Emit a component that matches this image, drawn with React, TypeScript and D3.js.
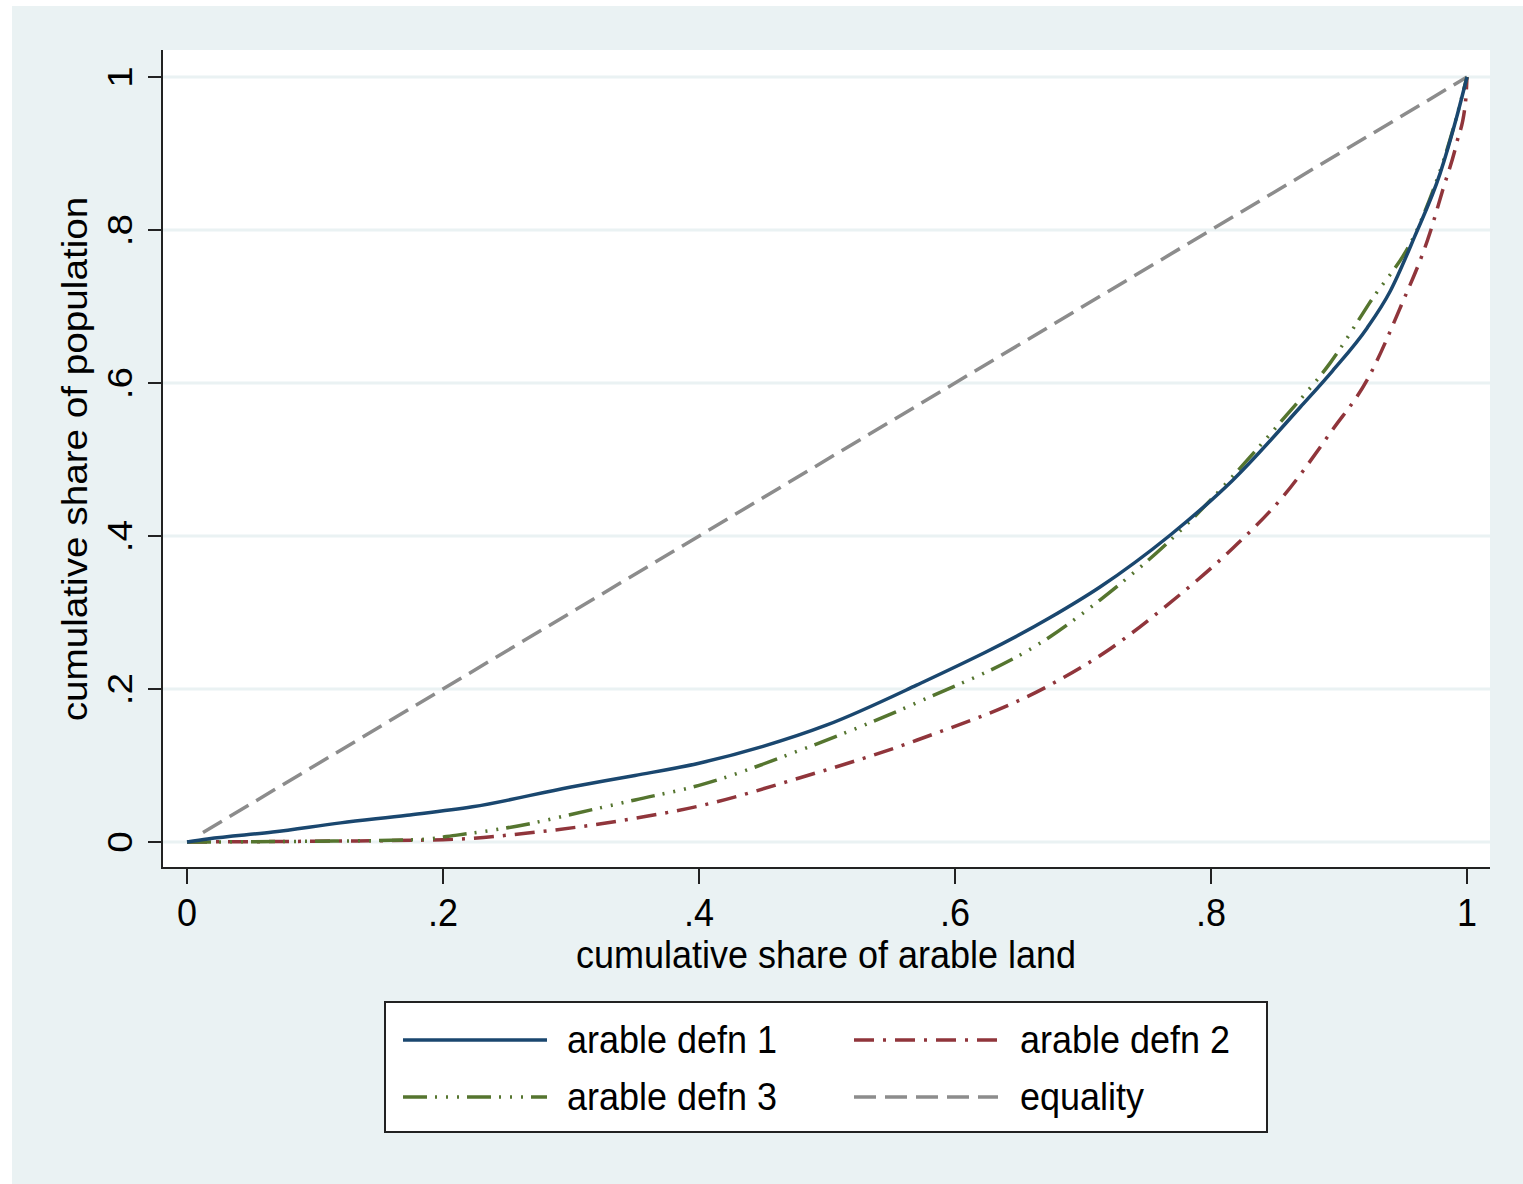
import React, { useEffect, useRef } from "react";
import * as d3 from "d3";

// Lorenz curves: [cumulative share of arable land, cumulative share of population]
const defn1: [number, number][] = [
  [0, 0], [0.016, 0.004], [0.067, 0.013], [0.12, 0.025], [0.172, 0.035],
  [0.223, 0.046], [0.3, 0.072], [0.35, 0.087], [0.4, 0.103], [0.45, 0.125],
  [0.5, 0.153], [0.57, 0.205], [0.674, 0.293], [0.713, 0.333], [0.768, 0.401],
  [0.817, 0.473], [0.87, 0.569], [0.895, 0.616], [0.922, 0.672], [0.94, 0.72],
  [0.959, 0.791], [0.979, 0.874], [0.992, 0.948], [1, 1],
];
const defn2: [number, number][] = [
  [0, 0], [0.1, 0.001], [0.2, 0.003], [0.268, 0.012], [0.35, 0.031],
  [0.4, 0.047], [0.479, 0.084], [0.57, 0.133], [0.674, 0.205], [0.719, 0.25],
  [0.766, 0.31], [0.817, 0.384], [0.856, 0.451], [0.895, 0.539], [0.922, 0.604],
  [0.948, 0.699], [0.971, 0.796], [0.981, 0.852], [0.992, 0.914], [0.999, 0.97],
  [1, 1],
];
const defn3: [number, number][] = [
  [0, 0], [0.1, 0.001], [0.18, 0.003], [0.211, 0.009], [0.268, 0.024],
  [0.3, 0.036], [0.35, 0.055], [0.4, 0.074], [0.479, 0.12], [0.57, 0.182],
  [0.674, 0.268], [0.713, 0.316], [0.766, 0.391], [0.859, 0.558], [0.893, 0.626],
  [0.924, 0.705], [0.962, 0.804], [0.989, 0.931], [1, 1],
];
const equality: [number, number][] = [[0.0125, 0.0125], [1, 1]];

const tickValues = [0, 0.2, 0.4, 0.6, 0.8, 1];
const tickLabels = ["0", ".2", ".4", ".6", ".8", "1"];

const seriesNames = ["arable defn 1", "arable defn 2", "arable defn 3", "equality"];
const seriesColors = ["#1a476f", "#90353b", "#55752f", "#8c8c8c"];
const seriesDash = ["none", "20 9 3 9", "24 8 2 9 2 9 2 8", "22 9"];

export default function App() {
  const ref = useRef<SVGSVGElement>(null);

  useEffect(() => {
    const width = 1523,
      height = 1184;
    const svg = d3.select(ref.current);
    svg.selectAll("*").remove();

    // vertical stretch of the glyphs in the original picture
    const stretch = 1.075;
    const font = "'Liberation Sans', Arial, sans-serif";
    const fontSize = 36;

    // Graph region and plot region
    svg.append("rect").attr("width", width).attr("height", height).attr("fill", "#ffffff");
    svg
      .append("rect")
      .attr("x", 12)
      .attr("y", 6)
      .attr("width", width - 12)
      .attr("height", height - 6)
      .attr("fill", "#eaf2f3");

    const plot = { left: 162, right: 1490, top: 50, bottom: 868 };
    svg
      .append("rect")
      .attr("x", plot.left)
      .attr("y", plot.top)
      .attr("width", plot.right - plot.left)
      .attr("height", plot.bottom - plot.top)
      .attr("fill", "#ffffff");

    const x = d3.scaleLinear().domain([0, 1]).range([187, 1467]);
    const y = d3.scaleLinear().domain([0, 1]).range([842, 77]);

    // Grid lines
    svg
      .append("g")
      .selectAll("line")
      .data(tickValues)
      .join("line")
      .attr("x1", plot.left)
      .attr("x2", plot.right)
      .attr("y1", (d) => y(d))
      .attr("y2", (d) => y(d))
      .attr("stroke", "#eaf2f3")
      .attr("stroke-width", 3);

    // Series lines
    const line = d3
      .line<[number, number]>()
      .x((d) => x(d[0]))
      .y((d) => y(d[1]))
      .curve(d3.curveMonotoneX);

    const allSeries = [defn1, defn2, defn3, equality];
    // draw equality first, then defn2, defn3, defn1 on top
    [3, 1, 2, 0].forEach((i) => {
      svg
        .append("path")
        .datum(allSeries[i])
        .attr("d", line)
        .attr("fill", "none")
        .attr("stroke", seriesColors[i])
        .attr("stroke-width", 3.5)
        .attr("stroke-dasharray", seriesDash[i]);
    });

    // Axis lines
    const axisColor = "#222222";
    svg
      .append("line")
      .attr("x1", plot.left)
      .attr("x2", plot.left)
      .attr("y1", plot.top)
      .attr("y2", plot.bottom + 1)
      .attr("stroke", axisColor)
      .attr("stroke-width", 2);
    svg
      .append("line")
      .attr("x1", plot.left - 1)
      .attr("x2", plot.right)
      .attr("y1", plot.bottom)
      .attr("y2", plot.bottom)
      .attr("stroke", axisColor)
      .attr("stroke-width", 2);

    // X ticks and labels
    const xAxis = svg.append("g");
    xAxis
      .selectAll("line")
      .data(tickValues)
      .join("line")
      .attr("x1", (d) => x(d))
      .attr("x2", (d) => x(d))
      .attr("y1", plot.bottom)
      .attr("y2", plot.bottom + 16)
      .attr("stroke", axisColor)
      .attr("stroke-width", 2);
    xAxis
      .selectAll("text")
      .data(tickValues)
      .join("text")
      .attr("transform", (d) => `translate(${x(d)},926) scale(1,${stretch})`)
      .attr("text-anchor", "middle")
      .attr("font-family", font)
      .attr("font-size", fontSize)
      .attr("fill", "#000")
      .text((d, i) => tickLabels[i]);

    // Y ticks and labels
    const yAxis = svg.append("g");
    yAxis
      .selectAll("line")
      .data(tickValues)
      .join("line")
      .attr("x1", plot.left - 14)
      .attr("x2", plot.left)
      .attr("y1", (d) => y(d))
      .attr("y2", (d) => y(d))
      .attr("stroke", axisColor)
      .attr("stroke-width", 2);
    yAxis
      .selectAll("text")
      .data(tickValues)
      .join("text")
      .attr("transform", (d) => `translate(132,${y(d)}) scale(1,${stretch}) rotate(-90)`)
      .attr("text-anchor", "middle")
      .attr("font-family", font)
      .attr("font-size", fontSize)
      .attr("fill", "#000")
      .text((d, i) => tickLabels[i]);

    // Axis titles
    svg
      .append("text")
      .attr("transform", `translate(${(plot.left + plot.right) / 2},968) scale(1,${stretch})`)
      .attr("text-anchor", "middle")
      .attr("font-family", font)
      .attr("font-size", fontSize)
      .attr("fill", "#000")
      .text("cumulative share of arable land");
    svg
      .append("text")
      .attr("transform", `translate(87,${(plot.top + plot.bottom) / 2}) scale(1,${stretch}) rotate(-90)`)
      .attr("text-anchor", "middle")
      .attr("font-family", font)
      .attr("font-size", fontSize)
      .attr("fill", "#000")
      .text("cumulative share of population");

    // Legend
    const legend = svg.append("g");
    legend
      .append("rect")
      .attr("x", 385)
      .attr("y", 1002)
      .attr("width", 882)
      .attr("height", 130)
      .attr("fill", "#ffffff")
      .attr("stroke", axisColor)
      .attr("stroke-width", 2);

    const cols = [403, 854];
    const textCols = [567, 1020];
    const rows = [1040, 1097];
    seriesNames.forEach((name, i) => {
      const cx = cols[i % 2];
      const cy = rows[Math.floor(i / 2)];
      legend
        .append("line")
        .attr("x1", cx)
        .attr("x2", cx + 144)
        .attr("y1", cy)
        .attr("y2", cy)
        .attr("stroke", seriesColors[i])
        .attr("stroke-width", 3.5)
        .attr("stroke-dasharray", seriesDash[i]);
      legend
        .append("text")
        .attr("transform", `translate(${textCols[i % 2]},${cy + 13}) scale(1,${stretch})`)
        .attr("font-family", font)
        .attr("font-size", fontSize)
        .attr("fill", "#000")
        .text(name);
    });
  }, []);

  return (
    <svg
      ref={ref}
      width={1523}
      height={1184}
      style={{ position: "absolute", left: 0, top: 0, display: "block" }}
    ></svg>
  );
}
